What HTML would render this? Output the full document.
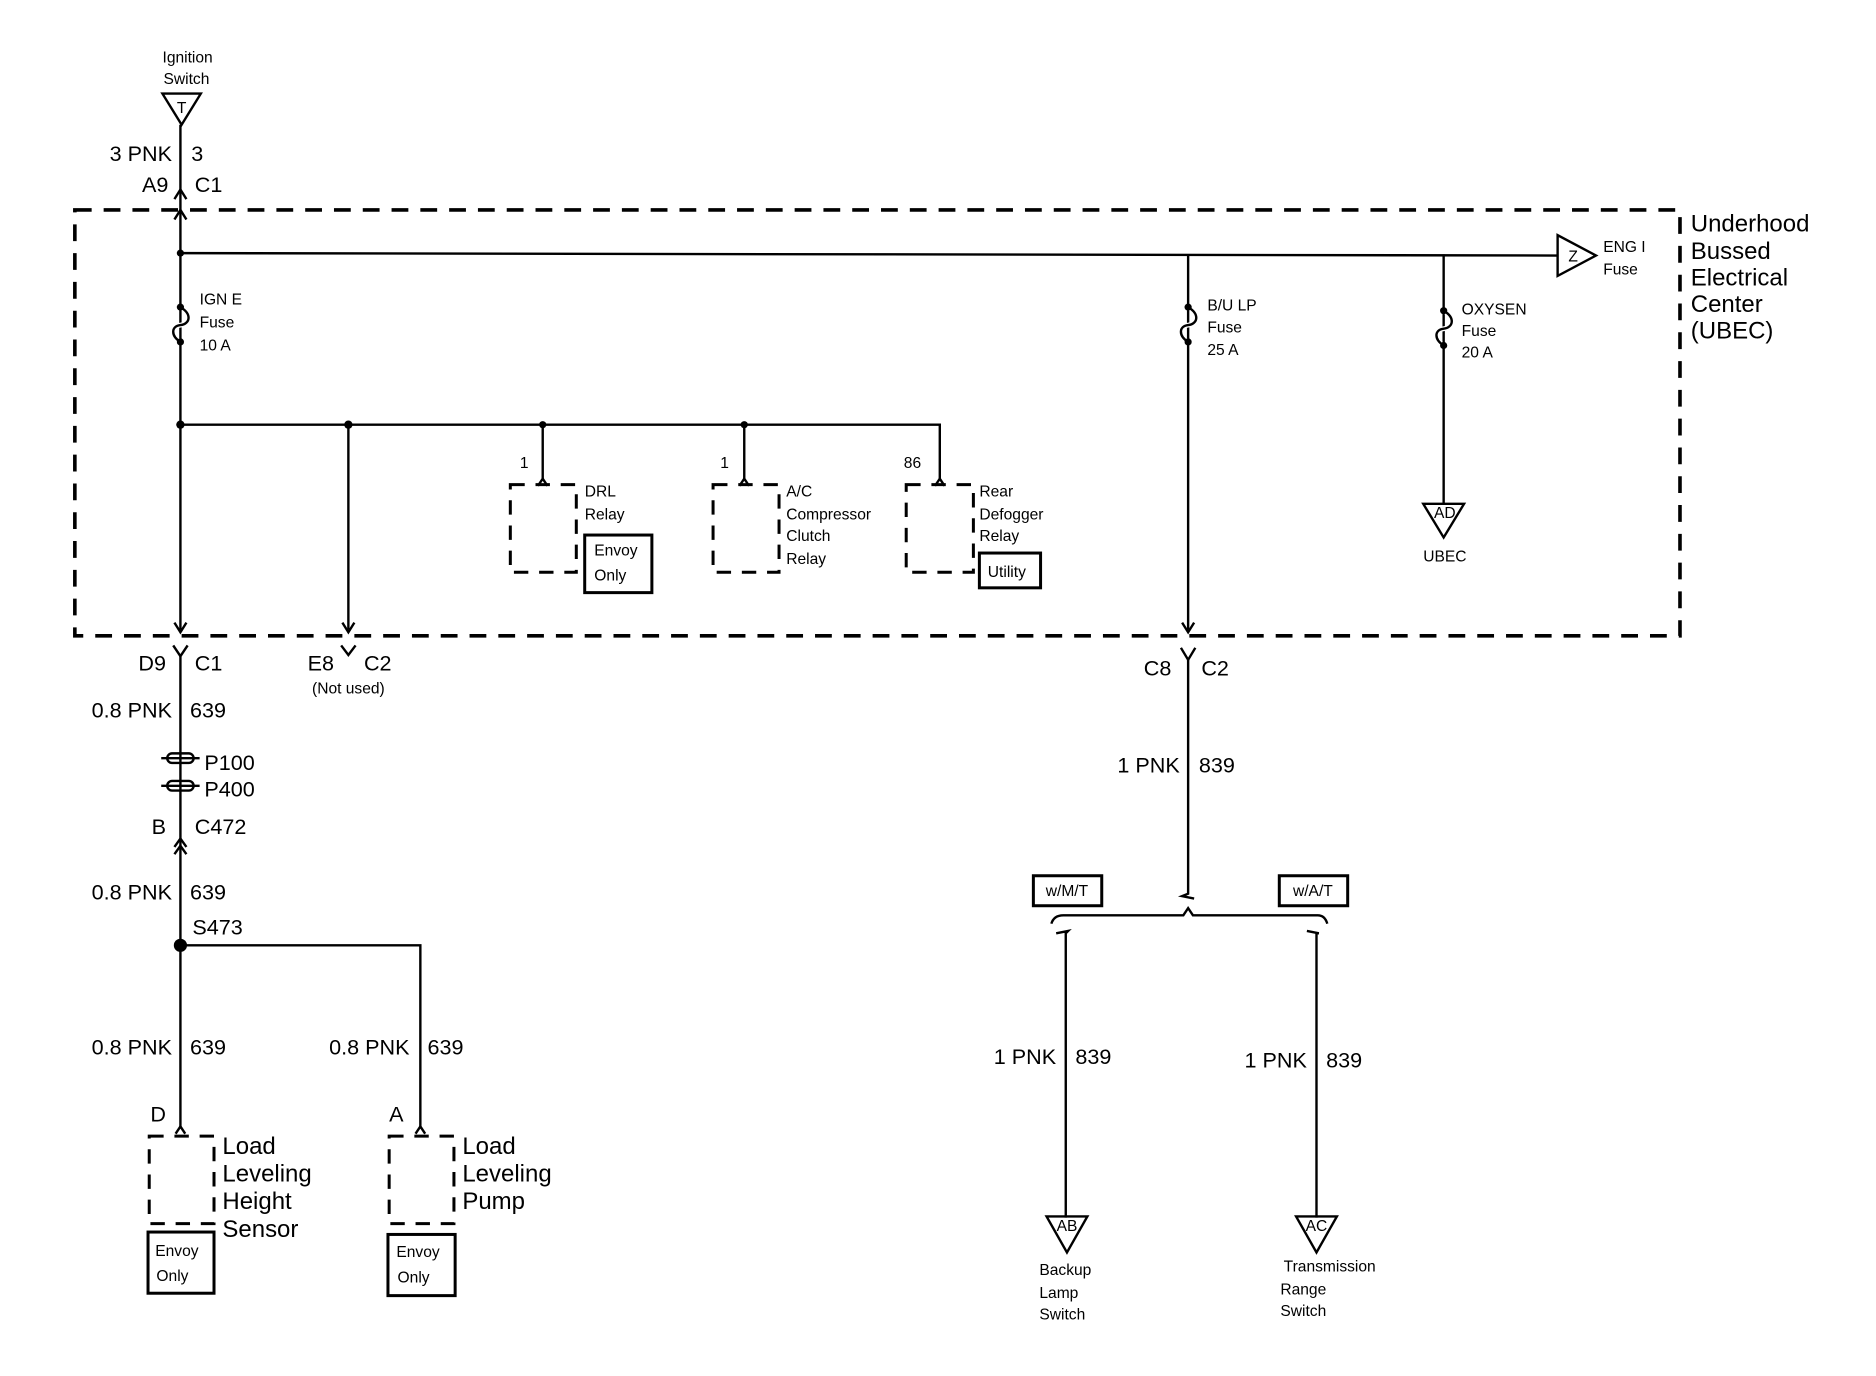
<!DOCTYPE html>
<html><head><meta charset="utf-8"><style>
html,body{margin:0;padding:0;background:#fff;}
svg{display:block;}
text{font-family:"Liberation Sans",sans-serif;fill:#000;}
.s{font-size:13px;}
.m{font-size:18px;}
.l{font-size:20px;}
</style></head><body>
<svg width="1876" height="1376" viewBox="0 0 1563 1147" xmlns="http://www.w3.org/2000/svg">
<g stroke="#000" stroke-width="2" fill="none">
<!-- dashed UBEC box -->
<rect x="62" y="175" width="1338" height="355" stroke-width="3" stroke-dasharray="14,10"/>
<!-- ignition switch -->
<polygon points="135,78 167,78 151,104"/>
<line x1="150" y1="104" x2="150" y2="525"/>
<polyline points="145,166 150,158 155,166"/>
<polyline points="145,183 150,175 155,183"/>
<!-- top bus -->
<line x1="150" y1="211" x2="1298" y2="213"/>
<polygon points="1298,196 1298,230 1330,213"/>
<!-- IGN E fuse -->
<path d="M150,256 C160,262 158,270 150,271 C142,272 142,280 150,285" stroke="#fff" stroke-width="4"/>
<path d="M150,256 C160,262 158,270 150,271 C142,272 142,280 150,285"/>
<!-- second bus -->
<polyline points="150,354 783,354 783,400"/>
<line x1="290" y1="354" x2="290" y2="525"/>
<polyline points="145,519 150,527 155,519"/>
<polyline points="285,519 290,527 295,519"/>
<line x1="452" y1="354" x2="452" y2="400"/>
<line x1="620" y1="354" x2="620" y2="400"/>
<polyline points="448,405 452,399 456,405"/>
<polyline points="616,405 620,399 624,405"/>
<polyline points="779,405 783,399 787,405"/>
<!-- relay boxes -->
<g stroke-width="2.5" stroke-dasharray="12,9">
<rect x="425" y="404" width="55" height="73"/>
<rect x="594" y="404" width="55" height="73"/>
<rect x="755" y="404" width="56" height="73"/>
</g>
<rect x="487" y="446" width="56" height="48" stroke-width="2.5"/>
<rect x="816" y="461" width="51" height="29" stroke-width="2.5"/>
<!-- B/U LP -->
<line x1="990" y1="212" x2="990" y2="525"/>
<path d="M990,256 C1000,262 998,270 990,271 C982,272 982,280 990,285" stroke="#fff" stroke-width="4"/>
<path d="M990,256 C1000,262 998,270 990,271 C982,272 982,280 990,285"/>
<polyline points="985,519 990,527 995,519"/>
<!-- OXYSEN -->
<line x1="1203" y1="212" x2="1203" y2="420"/>
<path d="M1203,259 C1213,265 1211,273 1203,274 C1195,275 1195,283 1203,288" stroke="#fff" stroke-width="4"/>
<path d="M1203,259 C1213,265 1211,273 1203,274 C1195,275 1195,283 1203,288"/>
<polygon points="1186,420 1220,420 1203,448"/>
<!-- below box left -->
<polyline points="144,538 150,547 156,538"/>
<polyline points="284,538 290,546 296,538"/>
<line x1="150" y1="547" x2="150" y2="940"/>
<rect x="139" y="628" width="22" height="8" rx="4"/>
<line x1="134" y1="632" x2="166" y2="632"/>
<rect x="139" y="651" width="22" height="8" rx="4"/>
<line x1="134" y1="655" x2="166" y2="655"/>
<polyline points="145,706 150,699 155,706"/>
<polyline points="145,712 150,705 155,712"/>
<polyline points="150,788 350,788 350,940"/>
<polyline points="146,945 150,939 154,945"/>
<polyline points="346,945 350,939 354,945"/>
<g stroke-width="2.5" stroke-dasharray="12,9">
<rect x="124" y="947" width="54" height="73"/>
<rect x="324" y="947" width="54" height="73"/>
</g>
<rect x="123" y="1027" width="55" height="51" stroke-width="2.5"/>
<rect x="323" y="1029" width="56" height="51" stroke-width="2.5"/>
<!-- right bottom -->
<polyline points="984,540 990,550 996,540"/>
<polyline points="990,550 990,745 985,747 995,749"/>
<path d="M876,770 Q878,763 886,763 L986,763 L990,757 L994,763 L1098,763 Q1104,763 1106,770"/>
<rect x="861" y="730" width="57" height="25" stroke-width="2.5"/>
<rect x="1066" y="730" width="57" height="25" stroke-width="2.5"/>
<path d="M880,778 L890,776 L888,778 L888,1015"/>
<path d="M1089,776 L1099,778 L1097,778 L1097,1015"/>
<polygon points="872,1014 906,1014 889,1044"/>
<polygon points="1080,1014 1114,1014 1097,1044"/>
</g>
<g fill="#000">
<circle cx="150" cy="211" r="3"/><circle cx="150" cy="256" r="3"/><circle cx="150" cy="285" r="3"/>
<circle cx="150" cy="354" r="3.5"/><circle cx="290" cy="354" r="3.5"/><circle cx="452" cy="354" r="3"/><circle cx="620" cy="354" r="3"/>
<circle cx="990" cy="256" r="3"/><circle cx="990" cy="285" r="3"/>
<circle cx="1203" cy="259" r="3"/><circle cx="1203" cy="288" r="3"/>
<circle cx="150" cy="788" r="5.5"/>
</g>
<!-- text -->
<text class="s" x="156" y="52" text-anchor="middle">Ignition</text>
<text class="s" x="155" y="70" text-anchor="middle">Switch</text>
<text class="s" x="151" y="94" text-anchor="middle">T</text>
<text class="m" x="143" y="134" text-anchor="end">3 PNK</text>
<text class="m" x="159" y="134">3</text>
<text class="m" x="140" y="160" text-anchor="end">A9</text>
<text class="m" x="162" y="160">C1</text>
<text class="s" x="166" y="254">IGN E</text>
<text class="s" x="166" y="273">Fuse</text>
<text class="s" x="166" y="292">10 A</text>
<text class="s" x="1307" y="218">Z</text>
<text class="s" x="1336" y="210">ENG I</text>
<text class="s" x="1336" y="229">Fuse</text>
<text class="l" x="1409" y="193">Underhood</text>
<text class="l" x="1409" y="216">Bussed</text>
<text class="l" x="1409" y="238">Electrical</text>
<text class="l" x="1409" y="260">Center</text>
<text class="l" x="1409" y="282">(UBEC)</text>
<text class="s" x="1006" y="259">B/U LP</text>
<text class="s" x="1006" y="277">Fuse</text>
<text class="s" x="1006" y="296">25 A</text>
<text class="s" x="1218" y="262">OXYSEN</text>
<text class="s" x="1218" y="280">Fuse</text>
<text class="s" x="1218" y="298">20 A</text>
<text class="s" x="1204" y="432" text-anchor="middle">AD</text>
<text class="s" x="1204" y="468" text-anchor="middle">UBEC</text>
<text class="s" x="433" y="390">1</text>
<text class="s" x="600" y="390">1</text>
<text class="s" x="753" y="390">86</text>
<text class="s" x="487" y="414">DRL</text>
<text class="s" x="487" y="433">Relay</text>
<text class="s" x="495" y="463">Envoy</text>
<text class="s" x="495" y="484">Only</text>
<text class="s" x="655" y="414">A/C</text>
<text class="s" x="655" y="433">Compressor</text>
<text class="s" x="655" y="451">Clutch</text>
<text class="s" x="655" y="470">Relay</text>
<text class="s" x="816" y="414">Rear</text>
<text class="s" x="816" y="433">Defogger</text>
<text class="s" x="816" y="451">Relay</text>
<text class="s" x="823" y="481">Utility</text>
<text class="m" x="138" y="559" text-anchor="end">D9</text>
<text class="m" x="162" y="559">C1</text>
<text class="m" x="278" y="559" text-anchor="end">E8</text>
<text class="m" x="303" y="559">C2</text>
<text class="s" x="290" y="578" text-anchor="middle">(Not used)</text>
<text class="m" x="143" y="598" text-anchor="end">0.8 PNK</text>
<text class="m" x="158" y="598">639</text>
<text class="m" x="170" y="642">P100</text>
<text class="m" x="170" y="664">P400</text>
<text class="m" x="138" y="695" text-anchor="end">B</text>
<text class="m" x="162" y="695">C472</text>
<text class="m" x="143" y="750" text-anchor="end">0.8 PNK</text>
<text class="m" x="158" y="750">639</text>
<text class="m" x="160" y="779">S473</text>
<text class="m" x="143" y="879" text-anchor="end">0.8 PNK</text>
<text class="m" x="158" y="879">639</text>
<text class="m" x="341" y="879" text-anchor="end">0.8 PNK</text>
<text class="m" x="356" y="879">639</text>
<text class="m" x="138" y="935" text-anchor="end">D</text>
<text class="m" x="336" y="935" text-anchor="end">A</text>
<text class="l" x="185" y="962">Load</text>
<text class="l" x="185" y="985">Leveling</text>
<text class="l" x="185" y="1008">Height</text>
<text class="l" x="185" y="1031">Sensor</text>
<text class="l" x="385" y="962">Load</text>
<text class="l" x="385" y="985">Leveling</text>
<text class="l" x="385" y="1008">Pump</text>
<text class="s" x="129" y="1047">Envoy</text>
<text class="s" x="130" y="1068">Only</text>
<text class="s" x="330" y="1048">Envoy</text>
<text class="s" x="331" y="1069">Only</text>
<text class="m" x="976" y="563" text-anchor="end">C8</text>
<text class="m" x="1001" y="563">C2</text>
<text class="m" x="983" y="644" text-anchor="end">1 PNK</text>
<text class="m" x="999" y="644">839</text>
<text class="s" x="889" y="747" text-anchor="middle">w/M/T</text>
<text class="s" x="1094" y="747" text-anchor="middle">w/A/T</text>
<text class="m" x="880" y="887" text-anchor="end">1 PNK</text>
<text class="m" x="896" y="887">839</text>
<text class="m" x="1089" y="890" text-anchor="end">1 PNK</text>
<text class="m" x="1105" y="890">839</text>
<text class="s" x="889" y="1026" text-anchor="middle">AB</text>
<text class="s" x="1097" y="1026" text-anchor="middle">AC</text>
<text class="s" x="866" y="1063">Backup</text>
<text class="s" x="866" y="1082">Lamp</text>
<text class="s" x="866" y="1100">Switch</text>
<text class="s" x="1108" y="1060" text-anchor="middle">Transmission</text>
<text class="s" x="1086" y="1079" text-anchor="middle">Range</text>
<text class="s" x="1086" y="1097" text-anchor="middle">Switch</text>
</svg>
</body></html>
